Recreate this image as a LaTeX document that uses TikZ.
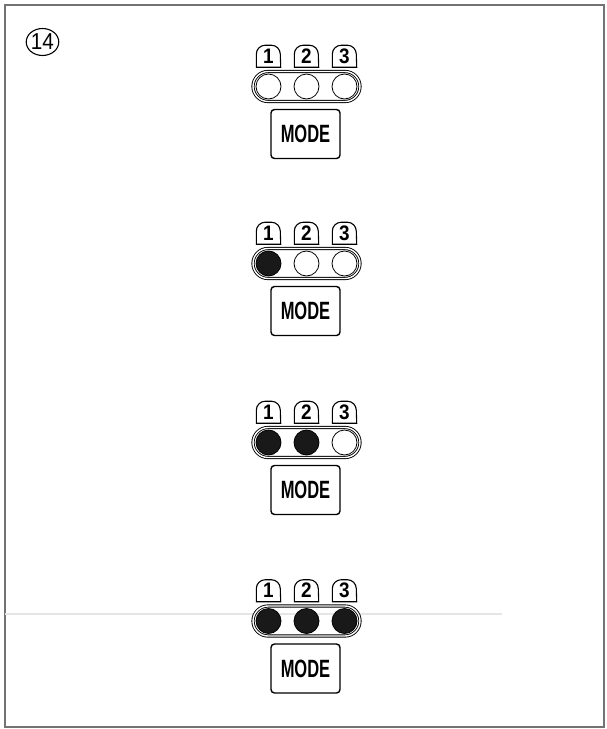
\documentclass[tikz,border=0pt]{standalone}
\usepackage{fontspec}
\setmainfont{Liberation Sans}
\usetikzlibrary{shapes.geometric,shapes.misc}
\begin{document}
\begin{tikzpicture}[x=1pt,y=-1pt,
  frameline/.style={draw=black!55, line width=1.8pt},
  scanline/.style={draw=black!10, line width=1.4pt},
  pill/.style={rounded rectangle, draw, double, double distance=1.4pt, line width=0.9pt,
    minimum width=107pt, minimum height=30pt, inner sep=0pt},
  led/.style={circle, draw, line width=0.8pt, minimum size=25pt, inner sep=0pt},
  tabnode/.style={minimum width=24pt, minimum height=22pt, inner sep=0pt,
    font=\fontsize{21}{21}\selectfont\bfseries},
  tabline/.style={draw, line width=1.1pt},
  modebox/.style={draw, line width=1.4pt, rounded corners=3.5pt, minimum width=69pt,
    minimum height=49pt, inner sep=0pt},
  numbered/.style={ellipse, draw, line width=1.1pt, minimum width=30pt, minimum height=27pt,
    inner sep=0pt, font=\fontsize{23}{23}\selectfont},
]
\useasboundingbox (0,0) rectangle (606,729);
\draw[frameline] (5,5) rectangle (604,727);
\coordinate (sl) at (5,614);
\coordinate (sr) at (502,614);
\draw[scanline] (sl) -- (sr);
\node[numbered] (num) at (42.5,42) {\scalebox{0.9}[1]{14}};
\foreach \c/\fa/\fb/\fc/\g in {86.5/white/white/white/1, 263.5/black!90/white/white/2,
  442.5/black!90/black!90/white/3, 621/black!90/black!90/black!90/4}{
  \node[pill] (pill\g) at (306.5,\c) {};
  \node[led, fill=\fa] (leda\g) at (268.5,\c) {};
  \node[led, fill=\fb] (ledb\g) at (306.5,\c) {};
  \node[led, fill=\fc] (ledc\g) at (344.5,\c) {};
  \foreach \k/\x in {1/268.5, 2/306.5, 3/344.5}{
    \node[tabnode] (tab\g\k) at (\x,\c-30.5) {\raisebox{-1.8pt}{\scalebox{0.9}[1]{\k}}};
    \draw[tabline] (tab\g\k.south west) -- ++(0,-13) arc[start angle=180, end angle=270, radius=9]
      -- ++(6,0) arc[start angle=270, end angle=360, radius=9] -- (tab\g\k.south east) -- cycle;
  }
  \node[modebox] (mode\g) at (305.5,\c+47.5)
    {\scalebox{0.66}[1]{\fontsize{25}{25}\selectfont\bfseries MODE}};
}
\end{tikzpicture}
\end{document}
